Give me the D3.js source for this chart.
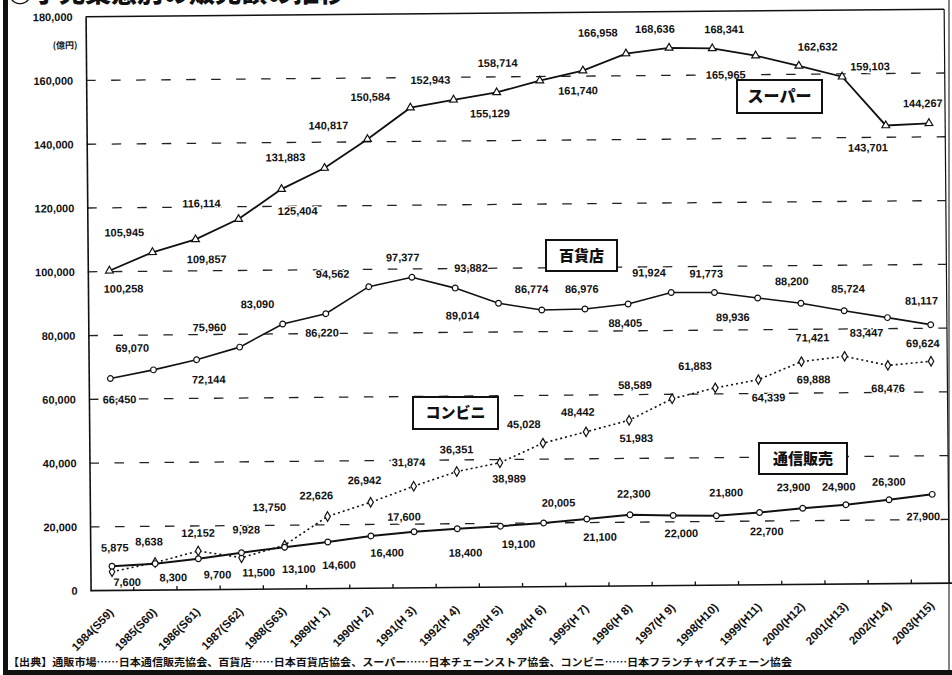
<!DOCTYPE html>
<html>
<head>
<meta charset="utf-8">
<script src="https://cdn.jsdelivr.net/npm/d3@7"></script>
<style>
  html, body { margin: 0; padding: 0; background: #fff; }
  svg { display: block; }
</style>
</head>
<body>
<svg id="chart" width="952" height="675"></svg>
<script>
// ---- data -------------------------------------------------------------
const years = [
  "1984(S59)", "1985(S60)", "1986(S61)", "1987(S62)", "1988(S63)",
  "1989(H 1)", "1990(H 2)", "1991(H 3)", "1992(H 4)", "1993(H 5)",
  "1994(H 6)", "1995(H 7)", "1996(H 8)", "1997(H 9)", "1998(H10)",
  "1999(H11)", "2000(H12)", "2001(H13)", "2002(H14)", "2003(H15)"
];
// 億円
const superValues = [100258, 105945, 109857, 116114, 125404, 131883, 140817, 150584, 152943, 155129,
                     158714, 161740, 166958, 168636, 168341, 165965, 162632, 159103, 143701, 144267];
const deptValues  = [66450, 69070, 72144, 75960, 83090, 86220, 94562, 97377, 93882, 89014,
                     86774, 86976, 88405, 91924, 91773, 89936, 88200, 85724, 83447, 81117];
const convValues  = [5875, 8638, 12152, 9928, 13750, 22626, 26942, 31874, 36351, 38989,
                     45028, 48442, 51983, 58589, 61883, 64339, 69888, 71421, 68476, 69624];
const mailValues  = [7600, 8300, 9700, 11500, 13100, 14600, 16400, 17600, 18400, 19100,
                     20005, 21100, 22300, 22000, 21800, 22700, 23900, 24900, 26300, 27900];
const yTicks = [0, 20000, 40000, 60000, 80000, 100000, 120000, 140000, 160000, 180000];
const seriesNames = ["スーパー", "百貨店", "コンビニ", "通信販売"];
const unitLabel = "(億円)";
const titleText = "◎小売業態別の販売額の推移";
const sourceText = "【出典】通販市場……日本通信販売協会、百貨店……日本百貨店協会、スーパー……日本チェーンストア協会、コンビニ……日本フランチャイズチェーン協会";

// ---- layout -----------------------------------------------------------
// value-label nudges in px, [dx, dy] per year
const superLabelOffsets = [[14,18],[-28,-20],[11,20],[-37,-16],[16,22],[-39,-11],[-39,-14],[-40,-11],[-23,-20],[-7,21],
                           [-42,-18],[-5,20],[-28,-21],[-14,-19],[12,-19],[-30,19],[19,-19],[28,-10],[-18,22],[-6,-20]];
const deptLabelOffsets  = [[9,21],[-21,-22],[12,20],[-30,-20],[-25,-20],[-4,19],[-36,-13],[-9,-20],[16,-20],[-36,12],
                           [-10,-21],[-3,-20],[-3,19],[-22,-20],[-8,-19],[-25,19],[-9,-22],[4,-22],[-21,15],[-9,-24]];
const convLabelOffsets  = [[3,-24],[-6,-21],[0,-18],[5,-28],[-15,-38],[-11,-21],[-6,-22],[-5,-24],[0,-22],[9,16],
                           [-19,-19],[-8,-20],[7,18],[-37,-14],[-20,-22],[10,18],[12,18],[-32,-19],[0,23],[-8,-18]];
const mailLabelOffsets  = [[15,16],[18,14],[19,16],[17,20],[14,22],[11,23],[16,17],[-10,-15],[8,24],[18,18],
                           [15,-20],[13,18],[4,-21],[8,18],[10,-23],[7,19],[-9,-21],[-7,-18],[0,-18],[-9,22]];
// name boxes: [x, y, w, h, font size]
const nameBoxes = [[737, 80, 85, 33, 16], [546, 240, 71, 31, 15], [413, 397, 85, 32, 15], [759, 443, 88, 31, 15]];

const FONT = "'Liberation Sans', Arial, sans-serif";
const JFONT = "'Noto Sans CJK JP', 'Noto Sans', sans-serif";

const svg = d3.select("#chart");
svg.append("rect").attr("width", 952).attr("height", 675).attr("fill", "#fff");

// title (runs off the top edge of the page)
svg.append("text")
  .attr("x", 7).attr("y", 2)
  .attr("font-family", JFONT).attr("font-weight", 900).attr("font-size", 26)
  .attr("textLength", 338).attr("lengthAdjust", "spacingAndGlyphs")
  .attr("fill", "#111").text(titleText);

// page border
svg.append("rect").attr("x", 3).attr("y", 0).attr("width", 5).attr("height", 675).attr("fill", "#111");
svg.append("rect").attr("x", 3).attr("y", 670).attr("width", 949).attr("height", 5).attr("fill", "#111");
svg.append("line").attr("x1", 949).attr("x2", 949).attr("y1", 0).attr("y2", 670)
  .attr("stroke", "#333").attr("stroke-width", 1.2);

// source note
svg.append("text")
  .attr("x", 8).attr("y", 666)
  .attr("font-family", JFONT).attr("font-weight", 700).attr("font-size", 10.5)
  .attr("textLength", 784).attr("lengthAdjust", "spacingAndGlyphs")
  .attr("fill", "#111").text(sourceText);

// chart body (sits at a slight tilt on the page)
const g = svg.append("g").attr("transform", "rotate(-0.5, 476, 337)");

const x = d3.scaleBand().domain(years).range([88.4, 952.4]).padding(0);
const bw = x.bandwidth();
const cx = d => x(d) + bw / 2;
const y = d3.scaleLinear().domain([0, 180000]).range([587.3, 13.3]);
const plotLeft = 88.4, plotRight = 947;

// dashed gridlines
g.append("g").selectAll("line").data(yTicks.filter(t => t > 0 && t < 180000)).join("line")
  .attr("x1", plotLeft).attr("x2", plotRight)
  .attr("y1", d => y(d)).attr("y2", d => y(d))
  .attr("stroke", "#222").attr("stroke-width", 1.3)
  .attr("stroke-dasharray", "9.5,15.5");

// frame
g.append("line").attr("x1", plotLeft).attr("x2", plotRight).attr("y1", y(180000)).attr("y2", y(180000))
  .attr("stroke", "#111").attr("stroke-width", 1.4);
g.append("line").attr("x1", plotRight).attr("x2", plotRight).attr("y1", y(180000)).attr("y2", y(0))
  .attr("stroke", "#111").attr("stroke-width", 1.2);

// y axis
const yAxis = d3.axisLeft(y).tickValues(yTicks).tickSize(0).tickPadding(13)
  .tickFormat(d3.format(","));
const ya = g.append("g").attr("transform", `translate(${plotLeft},0)`).call(yAxis);
ya.select(".domain").attr("stroke", "#111").attr("stroke-width", 1.6);
ya.selectAll("text").attr("font-family", FONT).attr("font-weight", 700).attr("font-size", 11).attr("fill", "#111");

g.append("text").attr("x", 80).attr("y", 45)
  .attr("text-anchor", "end")
  .attr("font-family", JFONT).attr("font-weight", 700).attr("font-size", 9)
  .attr("fill", "#111").text(unitLabel);

// x axis: baseline, ticks between years, slanted labels
g.append("line").attr("x1", plotLeft).attr("x2", 952).attr("y1", y(0)).attr("y2", y(0))
  .attr("stroke", "#111").attr("stroke-width", 1.6);
g.append("g").selectAll("line").data(years).join("line")
  .attr("x1", d => x(d) + bw).attr("x2", d => x(d) + bw)
  .attr("y1", y(0)).attr("y2", y(0) - 4)
  .attr("stroke", "#111").attr("stroke-width", 1.3);
g.append("g").selectAll("text").data(years).join("text")
  .attr("transform", d => `translate(${cx(d) - 1},${y(0) + 20}) rotate(-45)`)
  .attr("text-anchor", "end").attr("dy", "0.35em")
  .attr("font-family", FONT).attr("font-weight", 700).attr("font-size", 11.5)
  .attr("fill", "#111").text(d => d);

// series
const series = [
  { values: superValues, offsets: superLabelOffsets, width: 1.8, dash: null,  symbol: d3.symbolTriangle, size: 26 },
  { values: deptValues,  offsets: deptLabelOffsets,  width: 1.6, dash: null,  symbol: d3.symbolCircle,   size: 26 },
  { values: convValues,  offsets: convLabelOffsets,  width: 1.6, dash: "2,3", symbol: d3.symbolDiamond,  size: 26 },
  { values: mailValues,  offsets: mailLabelOffsets,  width: 2.0, dash: null,  symbol: d3.symbolCircle,   size: 26 }
];

const line = d3.line().x((d, i) => cx(years[i])).y(d => y(d));

series.forEach(s => {
  g.append("path").datum(s.values)
    .attr("d", line).attr("fill", "none")
    .attr("stroke", "#111").attr("stroke-width", s.width)
    .attr("stroke-dasharray", s.dash);
});

series.forEach(s => {
  g.append("g").selectAll("path").data(s.values).join("path")
    .attr("transform", (d, i) => `translate(${cx(years[i])},${y(d)})`)
    .attr("d", d3.symbol().type(s.symbol).size(s.size))
    .attr("fill", "#fff").attr("stroke", "#111").attr("stroke-width", 1.2);
});

series.forEach(s => {
  g.append("g").selectAll("text").data(s.values).join("text")
    .attr("x", (d, i) => cx(years[i]) + s.offsets[i][0])
    .attr("y", (d, i) => y(d) + s.offsets[i][1])
    .attr("dy", "0.35em").attr("text-anchor", "middle")
    .attr("font-family", FONT).attr("font-weight", 700).attr("font-size", 11)
    .attr("fill", "#111")
    .attr("stroke", "#fff").attr("stroke-width", 2.5).attr("paint-order", "stroke")
    .text(d => d3.format(",")(d));
});

// series name boxes
const boxes = svg.append("g").selectAll("g").data(seriesNames).join("g");
boxes.append("rect")
  .attr("x", (d, i) => nameBoxes[i][0]).attr("y", (d, i) => nameBoxes[i][1])
  .attr("width", (d, i) => nameBoxes[i][2]).attr("height", (d, i) => nameBoxes[i][3])
  .attr("fill", "#fff").attr("stroke", "#111").attr("stroke-width", 2);
boxes.append("text")
  .attr("x", (d, i) => nameBoxes[i][0] + nameBoxes[i][2] / 2)
  .attr("y", (d, i) => nameBoxes[i][1] + nameBoxes[i][3] / 2)
  .attr("dy", "0.36em").attr("text-anchor", "middle")
  .attr("font-family", JFONT).attr("font-weight", 900)
  .attr("font-size", (d, i) => nameBoxes[i][4])
  .attr("fill", "#111").text(d => d);
</script>
</body>
</html>
